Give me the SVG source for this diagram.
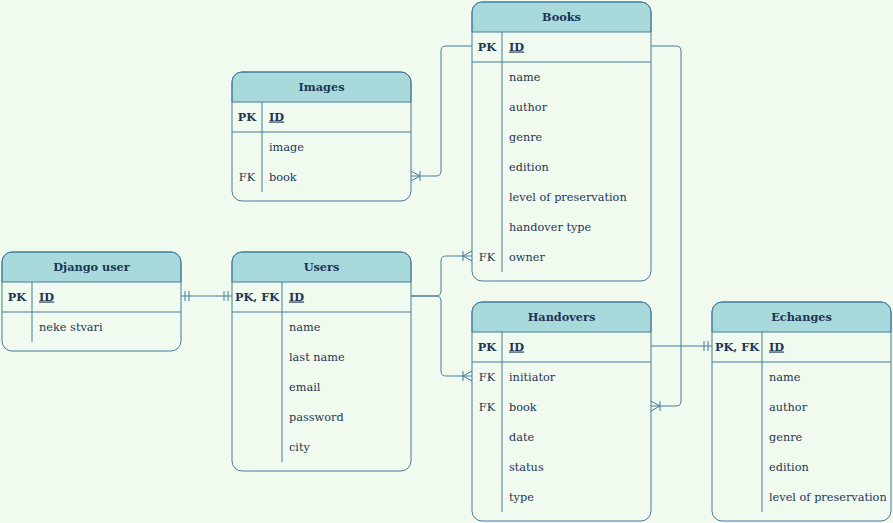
<svg xmlns="http://www.w3.org/2000/svg" width="893" height="523" viewBox="0 0 893 523">
<style>
.bg{fill:#F1FAEE}
.hd{fill:#A8DADC;stroke:#457B9D;stroke-width:1}
.box{fill:none;stroke:#457B9D;stroke-width:1}
.ln{stroke:#457B9D;stroke-width:1;fill:none}
text{font-family:"DejaVu Serif","Liberation Serif",serif;font-size:11.3px;fill:#1D3557}
.t{font-weight:bold;text-anchor:middle}
.k{text-anchor:middle}
.b{font-weight:bold}
.u{font-weight:bold;text-decoration:underline}
.c{stroke:#457B9D;stroke-width:1;fill:none}
</style>
<rect class="bg" x="0" y="0" width="893" height="523"/>

<g id="django_user" transform="translate(2,252)">
<rect class="bg" x="0" y="0" width="179" height="99" rx="10"/>
<path class="hd" d="M0,30 V10 A10,10 0 0 1 10,0 H169 A10,10 0 0 1 179,10 V30 Z"/>
<rect class="box" x="0" y="0" width="179" height="99" rx="10"/>
<path class="ln" d="M0,60 H179 M30,30 V90"/>
<text class="t" x="89.5" y="18.5">Django user</text>
<text class="k b" x="15" y="48.5">PK</text>
<text class="u" x="37" y="48.5">ID</text>
<text x="37" y="78.5">neke stvari</text>
</g>

<g id="users" transform="translate(232,252)">
<rect class="bg" x="0" y="0" width="179" height="219" rx="10"/>
<path class="hd" d="M0,30 V10 A10,10 0 0 1 10,0 H169 A10,10 0 0 1 179,10 V30 Z"/>
<rect class="box" x="0" y="0" width="179" height="219" rx="10"/>
<path class="ln" d="M0,60 H179 M50,30 V210"/>
<text class="t" x="89.5" y="18.5">Users</text>
<text class="k b" x="25" y="48.5">PK, FK</text>
<text class="u" x="57" y="48.5">ID</text>
<text x="57" y="78.5">name</text>
<text x="57" y="108.5">last name</text>
<text x="57" y="138.5">email</text>
<text x="57" y="168.5">password</text>
<text x="57" y="198.5">city</text>
</g>

<g id="images" transform="translate(232,72)">
<rect class="bg" x="0" y="0" width="179" height="129" rx="10"/>
<path class="hd" d="M0,30 V10 A10,10 0 0 1 10,0 H169 A10,10 0 0 1 179,10 V30 Z"/>
<rect class="box" x="0" y="0" width="179" height="129" rx="10"/>
<path class="ln" d="M0,60 H179 M30,30 V120"/>
<text class="t" x="89.5" y="18.5">Images</text>
<text class="k b" x="15" y="48.5">PK</text>
<text class="u" x="37" y="48.5">ID</text>
<text x="37" y="78.5">image</text>
<text class="k" x="15" y="108.5">FK</text>
<text x="37" y="108.5">book</text>
</g>

<g id="books" transform="translate(472,2)">
<rect class="bg" x="0" y="0" width="179" height="279" rx="10"/>
<path class="hd" d="M0,30 V10 A10,10 0 0 1 10,0 H169 A10,10 0 0 1 179,10 V30 Z"/>
<rect class="box" x="0" y="0" width="179" height="279" rx="10"/>
<path class="ln" d="M0,60 H179 M30,30 V270"/>
<text class="t" x="89.5" y="18.5">Books</text>
<text class="k b" x="15" y="48.5">PK</text>
<text class="u" x="37" y="48.5">ID</text>
<text x="37" y="78.5">name</text>
<text x="37" y="108.5">author</text>
<text x="37" y="138.5">genre</text>
<text x="37" y="168.5">edition</text>
<text x="37" y="198.5">level of preservation</text>
<text x="37" y="228.5">handover type</text>
<text class="k" x="15" y="258.5">FK</text>
<text x="37" y="258.5">owner</text>
</g>

<g id="handovers" transform="translate(472,302)">
<rect class="bg" x="0" y="0" width="179" height="219" rx="10"/>
<path class="hd" d="M0,30 V10 A10,10 0 0 1 10,0 H169 A10,10 0 0 1 179,10 V30 Z"/>
<rect class="box" x="0" y="0" width="179" height="219" rx="10"/>
<path class="ln" d="M0,60 H179 M30,30 V210"/>
<text class="t" x="89.5" y="18.5">Handovers</text>
<text class="k b" x="15" y="48.5">PK</text>
<text class="u" x="37" y="48.5">ID</text>
<text class="k" x="15" y="78.5">FK</text>
<text x="37" y="78.5">initiator</text>
<text class="k" x="15" y="108.5">FK</text>
<text x="37" y="108.5">book</text>
<text x="37" y="138.5">date</text>
<text x="37" y="168.5">status</text>
<text x="37" y="198.5">type</text>
</g>

<g id="echanges" transform="translate(712,302)">
<rect class="bg" x="0" y="0" width="179" height="219" rx="10"/>
<path class="hd" d="M0,30 V10 A10,10 0 0 1 10,0 H169 A10,10 0 0 1 179,10 V30 Z"/>
<rect class="box" x="0" y="0" width="179" height="219" rx="10"/>
<path class="ln" d="M0,60 H179 M50,30 V210"/>
<text class="t" x="89.5" y="18.5">Echanges</text>
<text class="k b" x="25" y="48.5">PK, FK</text>
<text class="u" x="57" y="48.5">ID</text>
<text x="57" y="78.5">name</text>
<text x="57" y="108.5">author</text>
<text x="57" y="138.5">genre</text>
<text x="57" y="168.5">edition</text>
<text x="57" y="198.5">level of preservation</text>
</g>

<g id="connectors">
<path class="c" d="M181,296 H232 M185,291 V301 M189,291 V301 M224,291 V301 M228,291 V301"/>
<path class="c" d="M411,176 H436 Q441,176 441,171 V51 Q441,46 446,46 H472"/>
<path class="c" d="M420,171 V181 M420,176 L411,171 M420,176 L411,181"/>
<path class="c" d="M411,296 H436 Q441,296 441,291 V261 Q441,256 446,256 H472"/>
<path class="c" d="M463,251 V261 M463,256 L472,251 M463,256 L472,261"/>
<path class="c" d="M411,296 H436 Q441,296 441,301 V371 Q441,376 446,376 H472"/>
<path class="c" d="M463,371 V381 M463,376 L472,371 M463,376 L472,381"/>
<path class="c" d="M651,46 H676 Q681,46 681,51 V401 Q681,406 676,406 H651"/>
<path class="c" d="M660,401 V411 M660,406 L651,401 M660,406 L651,411"/>
<path class="c" d="M651,346 H712 M704,341 V351 M708,341 V351"/>
</g>
</svg>
